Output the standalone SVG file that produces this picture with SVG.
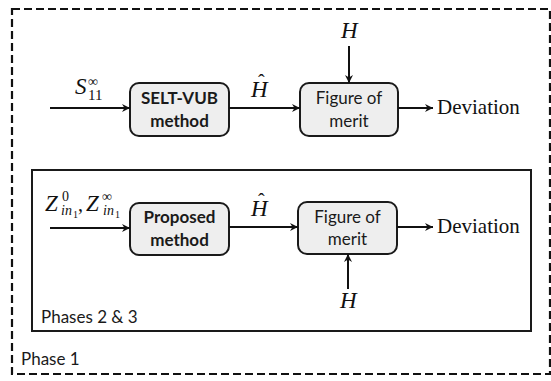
<svg xmlns="http://www.w3.org/2000/svg" width="551" height="381" viewBox="0 0 551 381">
  <style>
    .box { fill: #eeeeee; stroke: #1a1a1a; stroke-width: 2; }
    .wire { stroke: #111; stroke-width: 2; fill: none; marker-end: url(#arr); }
    .lbl { font-family: Lato, "Open Sans", sans-serif; font-size: 17px; fill: #1a1a1a; text-anchor: middle; }
    .bold { font-weight: bold; }
    .cap { font-family: Lato, "Open Sans", sans-serif; font-size: 17px; fill: #1a1a1a; }
    .math { font-family: "Liberation Serif", serif; fill: #111; }
    .it { font-style: italic; }
    .serif { font-family: "Liberation Serif", serif; fill: #111; }
  </style>
  <defs>
    <marker id="arr" markerWidth="10" markerHeight="10" refX="8" refY="4" orient="auto" markerUnits="userSpaceOnUse">
      <path d="M0,0 L8,4 L0,8 L2.5,4 z" fill="#111"/>
    </marker>
  </defs>

  <rect width="551" height="381" fill="#ffffff"/>

  <!-- Phase 1 frame (dashed) -->
  <g id="phase1">
    <rect x="12" y="9" width="538" height="365" fill="none" stroke="#111" stroke-width="2.2" stroke-dasharray="8 4"/>
    <text class="cap" x="21" y="365">Phase 1</text>
  </g>

  <!-- Phases 2 & 3 frame (solid) -->
  <g id="phase23">
    <rect x="32" y="170" width="499" height="161" fill="none" stroke="#1a1a1a" stroke-width="2"/>
    <text class="cap" x="41" y="323">Phases 2 &amp; 3</text>
  </g>

  <!-- Upper chain -->
  <g id="selt">
    <rect class="box" x="130" y="83" width="99" height="53" rx="9"/>
    <text class="lbl bold" x="179.5" y="104">SELT-VUB</text>
    <text class="lbl bold" x="179.5" y="127">method</text>
  </g>
  <g id="fom1">
    <rect class="box" x="300" y="83" width="98" height="53" rx="9"/>
    <text class="lbl" x="349" y="104">Figure of</text>
    <text class="lbl" x="349" y="127">merit</text>
  </g>

  <!-- Lower chain -->
  <g id="proposed">
    <rect class="box" x="130" y="203" width="99" height="52" rx="9"/>
    <text class="lbl bold" x="179.5" y="223">Proposed</text>
    <text class="lbl bold" x="179.5" y="246">method</text>
  </g>
  <g id="fom2">
    <rect class="box" x="298" y="202" width="99" height="52" rx="9"/>
    <text class="lbl" x="347.5" y="223">Figure of</text>
    <text class="lbl" x="347.5" y="245">merit</text>
  </g>

  <!-- Connectors -->
  <g id="connectors">
    <line class="wire" x1="50" y1="108" x2="130" y2="108"/>
    <line class="wire" x1="229" y1="108" x2="300" y2="108"/>
    <line class="wire" x1="349" y1="46" x2="349" y2="83"/>
    <line class="wire" x1="398" y1="108" x2="433" y2="108"/>

    <line class="wire" x1="50" y1="228" x2="130" y2="228"/>
    <line class="wire" x1="229" y1="227" x2="298" y2="227"/>
    <line class="wire" x1="348" y1="289" x2="348" y2="254"/>
    <line class="wire" x1="397" y1="227" x2="433" y2="227"/>
  </g>

  <!-- Signal labels -->
  <g id="labels">
    <!-- S11 infinity -->
    <text class="math"><tspan class="it" x="75" y="94" font-size="23">S</tspan><tspan x="88" y="100" font-size="15">11</tspan><tspan x="88" y="86" font-size="14">∞</tspan></text>

    <!-- H hat, upper -->
    <text class="math"><tspan class="it" x="251" y="97" font-size="23">H</tspan><tspan x="258" y="89" font-size="20">ˆ</tspan></text>

    <!-- H, upper -->
    <text class="math it" x="341" y="38" font-size="23">H</text>

    <text class="serif" x="437" y="114" font-size="21">Deviation</text>

    <!-- Z_in1^0 , Z_in1^inf -->
    <text class="math"><tspan class="it" x="45" y="211" font-size="23">Z</tspan><tspan x="62" y="201" font-size="14">0</tspan><tspan class="it" x="61" y="215" font-size="14">in</tspan><tspan x="73" y="218" font-size="10">1</tspan><tspan x="78" y="211" font-size="20">,</tspan><tspan class="it" x="86" y="211" font-size="23">Z</tspan><tspan x="102" y="201" font-size="14">∞</tspan><tspan class="it" x="103" y="215" font-size="14">in</tspan><tspan x="115" y="218" font-size="10">1</tspan></text>

    <!-- H hat, lower -->
    <text class="math"><tspan class="it" x="251" y="216" font-size="23">H</tspan><tspan x="258" y="208" font-size="20">ˆ</tspan></text>

    <text class="serif" x="437" y="233" font-size="21">Deviation</text>

    <!-- H, lower -->
    <text class="math it" x="340" y="308" font-size="23">H</text>
  </g>
</svg>
